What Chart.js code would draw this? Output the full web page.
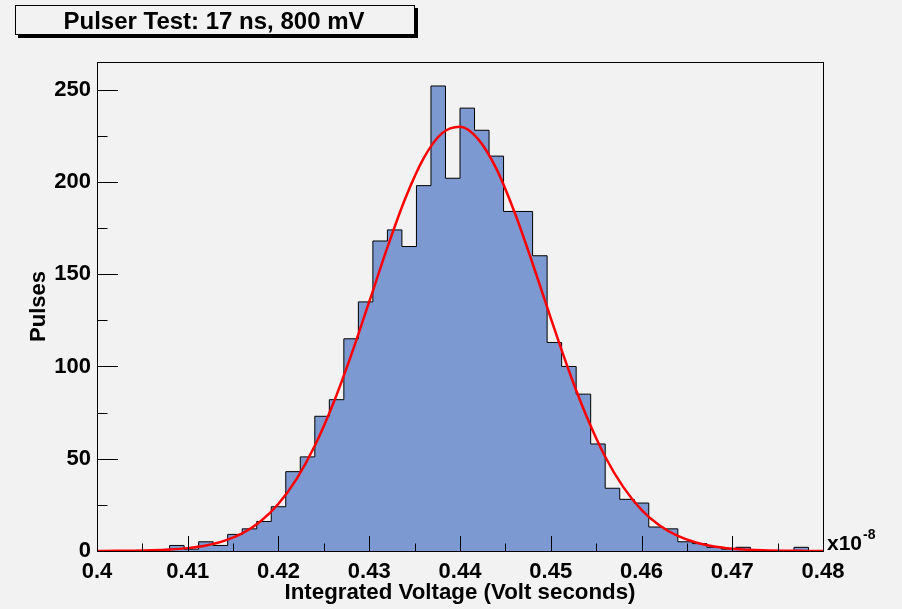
<!DOCTYPE html>
<html><head><meta charset="utf-8">
<script src="https://cdn.jsdelivr.net/npm/chart.js@4.4.1/dist/chart.umd.min.js"></script>
<style>html,body{margin:0;padding:0;background:#f2f2f2;}canvas{display:block;}</style>
</head><body>
<canvas id="c" width="902" height="609"></canvas>
<script>
const titleText = 'Pulser Test: 17 ns, 800 mV';
const xTitle = 'Integrated Voltage (Volt seconds)';
const yTitle = 'Pulses';
const xExponentBase = 'x10';
const xExponent = '-8';

const binLow = 0.4;
const binHigh = 0.48;
const binWidth = 0.0016;
const counts = [0,0,0,0,0, 3,1,5,3,9, 12,16,24,43,51, 73,82,115,135,168,
  174,165,198,252,202, 240,228,214,184,184, 160,113,100,85,58,
  34,28,26,13,12, 5,4,2,1,2, 0,0,0,2,0];

const fitX = [0.400,0.402,0.404,0.406,0.408,0.410,0.412,0.414,0.416,0.418,
  0.420,0.422,0.424,0.426,0.428,0.430,0.432,0.434,0.436,0.438,
  0.440,0.442,0.444,0.446,0.448,0.450,0.452,0.454,0.456,0.458,
  0.460,0.462,0.464,0.466,0.468,0.470,0.472,0.474,0.476,0.478,0.480];
const fitY = [0.03,0.07,0.17,0.37,0.78,1.56,2.99,5.48,9.58,16.0,
  25.6,39.1,57.0,79.5,106.0,135.1,164.5,191.4,212.9,226.3,
  229.9,223.2,207.2,183.7,155.8,126.2,97.7,72.3,51.1,34.6,
  22.3,13.8,8.14,4.59,2.47,1.28,0.63,0.30,0.13,0.06,0.02];

const xTicks = [0.40,0.41,0.42,0.43,0.44,0.45,0.46,0.47,0.48];
const xMinorTicks = [0.405,0.415,0.425,0.435,0.445,0.455,0.465,0.475];
const yTicks = [0,50,100,150,200,250];
const yMinorTicks = [25,75,125,175,225];
const yMax = 265;

const FONT = "'Liberation Sans', Arial, Helvetica, sans-serif";

const histPoints = counts.map((c, i) => ({x: binLow + i * binWidth, y: c}));
histPoints.push({x: binHigh, y: counts[counts.length - 1]});
const fitPoints = fitX.map((x, i) => ({x: x, y: fitY[i]}));

const rootDecor = {
  id: 'rootDecor',
  afterDatasetsDraw(chart) {
    const {ctx, chartArea: a, scales: {x, y}} = chart;
    ctx.save();
    ctx.strokeStyle = '#000';
    ctx.lineWidth = 1;
    ctx.beginPath();
    xTicks.forEach(v => {
      const px = Math.round(x.getPixelForValue(v)) + 0.5;
      ctx.moveTo(px, a.bottom); ctx.lineTo(px, a.bottom - 15);
    });
    xMinorTicks.forEach(v => {
      const px = Math.round(x.getPixelForValue(v)) + 0.5;
      ctx.moveTo(px, a.bottom); ctx.lineTo(px, a.bottom - 7.5);
    });
    yTicks.forEach(v => {
      const py = Math.round(y.getPixelForValue(v)) + 0.5;
      ctx.moveTo(a.left, py); ctx.lineTo(a.left + 21, py);
    });
    yMinorTicks.forEach(v => {
      const py = Math.round(y.getPixelForValue(v)) + 0.5;
      ctx.moveTo(a.left, py); ctx.lineTo(a.left + 10.5, py);
    });
    ctx.stroke();
    ctx.strokeRect(a.left + 0.5, a.top + 0.5, a.right - a.left, a.bottom - a.top);
    ctx.restore();
  },
  afterDraw(chart) {
    const {ctx, chartArea: a} = chart;
    ctx.save();
    ctx.fillStyle = '#000';
    ctx.fillRect(18, 8, 400, 30);
    ctx.fillStyle = '#f2f2f2';
    ctx.fillRect(15, 5, 400, 30);
    ctx.strokeStyle = '#000';
    ctx.lineWidth = 1;
    ctx.strokeRect(15.5, 5.5, 399, 29);
    ctx.fillStyle = '#000';
    ctx.font = 'bold 24px ' + FONT;
    ctx.textAlign = 'center';
    ctx.textBaseline = 'middle';
    ctx.fillText(titleText, 214, 22);
    ctx.textAlign = 'left';
    ctx.textBaseline = 'alphabetic';
    ctx.font = 'bold 21px ' + FONT;
    ctx.fillText(xExponentBase, a.right + 4, a.bottom - 1);
    const w = ctx.measureText(xExponentBase).width;
    ctx.font = 'bold 14px ' + FONT;
    ctx.fillText(xExponent, a.right + 4 + w + 1, a.bottom - 12);
    ctx.restore();
  }
};

new Chart(document.getElementById('c'), {
  type: 'line',
  data: {
    datasets: [
      {label: 'fit', data: fitPoints, borderColor: '#ff0000', borderWidth: 2.5,
       pointRadius: 0, cubicInterpolationMode: 'monotone', fill: false, order: 1},
      {label: 'hist', data: histPoints, stepped: true, fill: 'origin',
       backgroundColor: '#7d99d1', borderColor: '#000', borderWidth: 1,
       pointRadius: 0, order: 2}
    ]
  },
  options: {
    responsive: false,
    animation: false,
    devicePixelRatio: 1,
    layout: {padding: {top: 62, right: 79, left: 0, bottom: 0}},
    plugins: {legend: {display: false}, tooltip: {enabled: false}},
    scales: {
      x: {
        type: 'linear', min: binLow, max: binHigh,
        afterFit: s => { s.height = 58; },
        afterBuildTicks: s => { s.ticks = xTicks.map(v => ({value: v})); },
        grid: {display: false, drawTicks: false},
        border: {display: false},
        ticks: {padding: 8, color: '#000', autoSkip: false, maxRotation: 0,
          font: {family: FONT, size: 22, weight: 'bold'},
          callback: v => String(Number(Number(v).toFixed(3)))},
        title: {display: true, text: xTitle, color: '#000',
          font: {family: FONT, size: 22.3, weight: 'bold'}, padding: {top: 0, bottom: 3}}
      },
      y: {
        type: 'linear', min: 0, max: yMax,
        afterFit: s => { s.width = 97; },
        afterBuildTicks: s => { s.ticks = yTicks.map(v => ({value: v})); },
        grid: {display: false, drawTicks: false},
        border: {display: false},
        ticks: {padding: 6, color: '#000',
          font: {family: FONT, size: 22, weight: 'bold'}},
        title: {display: true, text: yTitle, color: '#000',
          font: {family: FONT, size: 22, weight: 'bold'}, padding: {top: 26, bottom: 0}}
      }
    }
  },
  plugins: [rootDecor]
});
</script>
</body></html>
